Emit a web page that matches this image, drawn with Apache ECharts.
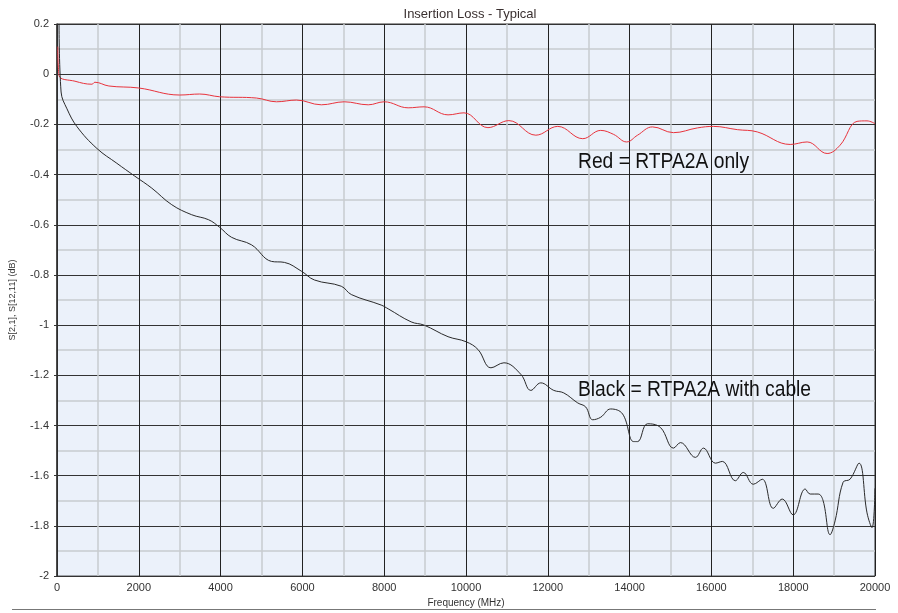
<!DOCTYPE html>
<html>
<head>
<meta charset="utf-8">
<script src="https://cdn.jsdelivr.net/npm/echarts@6/dist/echarts.min.js"></script>
<style>
  html, body { margin: 0; padding: 0; background: #fff; }
  #chart { width: 898px; height: 613px; }
</style>
</head>
<body>
<div id="chart"></div>
<script>
// frequency (MHz) / S21 (dB) for the connector alone
const redFreq = [20, 50, 439, 854, 927, 1268, 2000, 3000, 3488, 3976, 4878, 5366, 5854, 6463, 7024, 7610, 8000,
  8585, 8976, 9561, 9951, 10537, 11049, 11707, 12244, 12854, 13293, 13610, 13927, 14195, 14561, 15073,
  15659, 16049, 16634, 17122, 17927, 18341, 18829, 19146, 19561, 19805, 20000];
const redLoss = [0.11, -0.005, -0.028, -0.04, -0.032, -0.047, -0.055, -0.083, -0.079, -0.09, -0.095, -0.11, -0.103, -0.122, -0.11, -0.122, -0.11,
  -0.134, -0.13, -0.162, -0.154, -0.213, -0.185, -0.243, -0.208, -0.257, -0.224, -0.24, -0.27, -0.243, -0.21, -0.233,
  -0.214, -0.208, -0.221, -0.23, -0.28, -0.27, -0.316, -0.283, -0.188, -0.186, -0.197];

// connector with cable
const blackFreq = [50, 100, 244, 488, 976, 1463, 1900, 2317, 2805, 3293, 3707, 3976, 4268, 4756, 5244, 5561, 5976,
  6293, 6951, 7195, 7927, 8098, 8659, 8976, 9561, 10000, 10293, 10610, 10927, 11341, 11585, 11829, 12146,
  12390, 12732, 12927, 13098, 13293, 13537, 13829, 14098, 14195, 14439, 14756, 15073, 15244, 15610, 15805,
  16098, 16268, 16585, 16780, 17024, 17244, 17512, 17732, 18000, 18293, 18415, 18610, 18732, 18902, 19024,
  19220, 19390, 19610, 19805, 19927, 20000];
const blackLoss = [0.2, -0.071, -0.138, -0.209, -0.296, -0.355, -0.406, -0.454, -0.52, -0.56, -0.58, -0.61, -0.65, -0.68, -0.746, -0.75, -0.785,
  -0.82, -0.845, -0.878, -0.92, -0.935, -0.987, -1.0, -1.046, -1.066, -1.097, -1.17, -1.15, -1.196, -1.26, -1.23, -1.26,
  -1.27, -1.31, -1.326, -1.377, -1.367, -1.334, -1.354, -1.464, -1.464, -1.393, -1.408, -1.49, -1.468, -1.527, -1.49,
  -1.55, -1.543, -1.62, -1.587, -1.634, -1.614, -1.73, -1.693, -1.756, -1.653, -1.673, -1.673, -1.70, -1.835, -1.78,
  -1.626, -1.614, -1.55, -1.748, -1.807, -1.65];

const zip = (xs, ys) => xs.map((x, i) => [x, ys[i]]);

const chart = echarts.init(document.getElementById('chart'));

chart.setOption({
  animation: false,
  title: {
    text: 'Insertion Loss - Typical',
    left: 465,
    top: 3,
    textAlign: 'center',
    textStyle: { fontSize: 13, fontWeight: 'normal', color: '#3a3030', fontFamily: 'Liberation Sans, Arial, sans-serif' }
  },
  grid: {
    left: 55, right: 23, top: 24, bottom: 31,
    show: true,
    backgroundColor: '#ebf1fa',
    borderColor: '#333',
    borderWidth: 1
  },
  xAxis: {
    type: 'value',
    min: 0, max: 20000, interval: 2000,
    name: 'Frequency (MHz)',
    nameLocation: 'middle',
    nameGap: 15,
    nameTextStyle: { fontSize: 10, color: '#333', fontFamily: 'Liberation Sans, Arial, sans-serif' },
    axisLine: { show: true, lineStyle: { color: '#333' } },
    axisTick: { show: true, length: 4, lineStyle: { color: '#333' } },
    axisLabel: {
      fontSize: 11, color: '#333', margin: 6, fontFamily: 'Liberation Sans, Arial, sans-serif',
      formatter: v => String(v)
    },
    splitLine: { show: true, lineStyle: { color: '#222', width: 1 } },
    minorTick: { show: false, splitNumber: 2 },
    minorSplitLine: { show: true, lineStyle: { color: '#c8cbd0', width: 1.5 } }
  },
  yAxis: {
    type: 'value',
    min: -2, max: 0.2, interval: 0.2,
    name: 'S[2,1], S[12,11] (dB)',
    nameLocation: 'middle',
    nameGap: 40,
    nameRotate: 90,
    nameTextStyle: { fontSize: 9, color: '#333', fontFamily: 'Liberation Sans, Arial, sans-serif' },
    axisLine: { show: true, lineStyle: { color: '#333', width: 1.5 } },
    axisTick: { show: true, length: 3, lineStyle: { color: '#333' } },
    axisLabel: { fontSize: 11, color: '#333', margin: 8, fontFamily: 'Liberation Sans, Arial, sans-serif' },
    splitLine: { show: true, lineStyle: { color: '#333', width: 1 } },
    minorTick: { show: false, splitNumber: 2 },
    minorSplitLine: { show: true, lineStyle: { color: '#c8cbd0', width: 1.5 } }
  },
  series: [
    {
      name: 'Red = RTPA2A only',
      type: 'line',
      data: zip(redFreq, redLoss),
      showSymbol: false,
      smooth: 0.4,
      lineStyle: { color: '#e8333c', width: 1 },
      z: 3
    },
    {
      name: 'Black = RTPA2A with cable',
      type: 'line',
      data: zip(blackFreq, blackLoss),
      showSymbol: false,
      smooth: 0.4,
      lineStyle: { color: '#2a2a2a', width: 1 },
      z: 3
    }
  ],
  graphic: [
    {
      type: 'text', x: 578, y: 151, scaleX: 0.875, z: 10,
      style: { text: 'Red = RTPA2A only', fill: '#111', font: '22px "Liberation Sans", sans-serif' }
    },
    {
      type: 'text', x: 578, y: 379, scaleX: 0.875, z: 10,
      style: { text: 'Black = RTPA2A with cable', fill: '#111', font: '22px "Liberation Sans", sans-serif' }
    },
    {
      type: 'line', z: 10,
      shape: { x1: 12, y1: 609.5, x2: 876, y2: 609.5 },
      style: { stroke: '#777', lineWidth: 1 }
    }
  ]
});
</script>
</body>
</html>
